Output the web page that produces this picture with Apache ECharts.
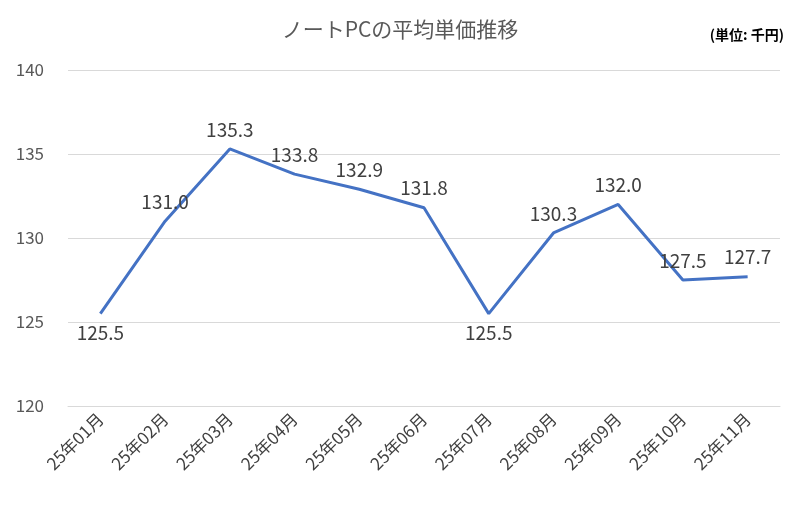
<!DOCTYPE html>
<html>
<head>
<meta charset="utf-8">
<script src="https://cdn.jsdelivr.net/npm/echarts@6/dist/echarts.min.js"></script>
<style>html,body{margin:0;padding:0;background:#fff}#c{width:800px;height:514px}</style>
</head>
<body>
<div id="c"></div>
<script>
const months = ['25年01月', '25年02月', '25年03月', '25年04月', '25年05月', '25年06月', '25年07月', '25年08月', '25年09月', '25年10月', '25年11月'];
const prices = [125.5, 131.0, 135.3, 133.8, 132.9, 131.8, 125.5, 130.3, 132.0, 127.5, 127.7];
const yTicks = [120, 125, 130, 135, 140];

// ラベル位置（谷は下に）
const labelPos = ['bottom', 'top', 'top', 'top', 'top', 'top', 'bottom', 'top', 'top', 'top', 'top'];

const font = '"Noto Sans CJK JP", "Noto Sans", sans-serif';
const chart = echarts.init(document.getElementById('c'));
chart.setOption({
  animation: false,
  title: {
    text: 'ノートPCの平均単価推移',
    left: 'center', top: 14,
    textStyle: { fontFamily: font, fontSize: 21, fontWeight: 'normal', color: '#595959' }
  },
  graphic: [{
    type: 'text', right: 16, top: 28,
    style: { text: '(単位: 千円)', font: 'bold 14px ' + font, fill: '#000' }
  }],
  grid: { left: 68, right: 20, top: 70, bottom: 108 },
  xAxis: {
    type: 'category',
    data: months,
    axisTick: { show: false },
    axisLine: { lineStyle: { color: '#d9d9d9' } },
    axisLabel: { rotate: 45, fontFamily: font, fontSize: 17, color: '#404040', margin: 10 }
  },
  yAxis: {
    type: 'value',
    min: yTicks[0], max: yTicks[yTicks.length - 1], interval: 5,
    axisLine: { show: false },
    axisTick: { show: false },
    splitLine: { lineStyle: { color: '#d9d9d9' } },
    axisLabel: { fontFamily: font, fontSize: 17, color: '#595959', margin: 24 }
  },
  series: [{
    type: 'line',
    data: prices.map((v, i) => ({
      value: v,
      label: { position: labelPos[i] }
    })),
    symbol: 'circle',
    symbolSize: 0,
    lineStyle: { color: '#4472C4', width: 3 },
    label: {
      show: true,
      fontFamily: font, fontSize: 19, color: '#404040',
      distance: 10,
      formatter: p => p.value.toFixed(1)
    }
  }]
});
</script>
</body>
</html>
